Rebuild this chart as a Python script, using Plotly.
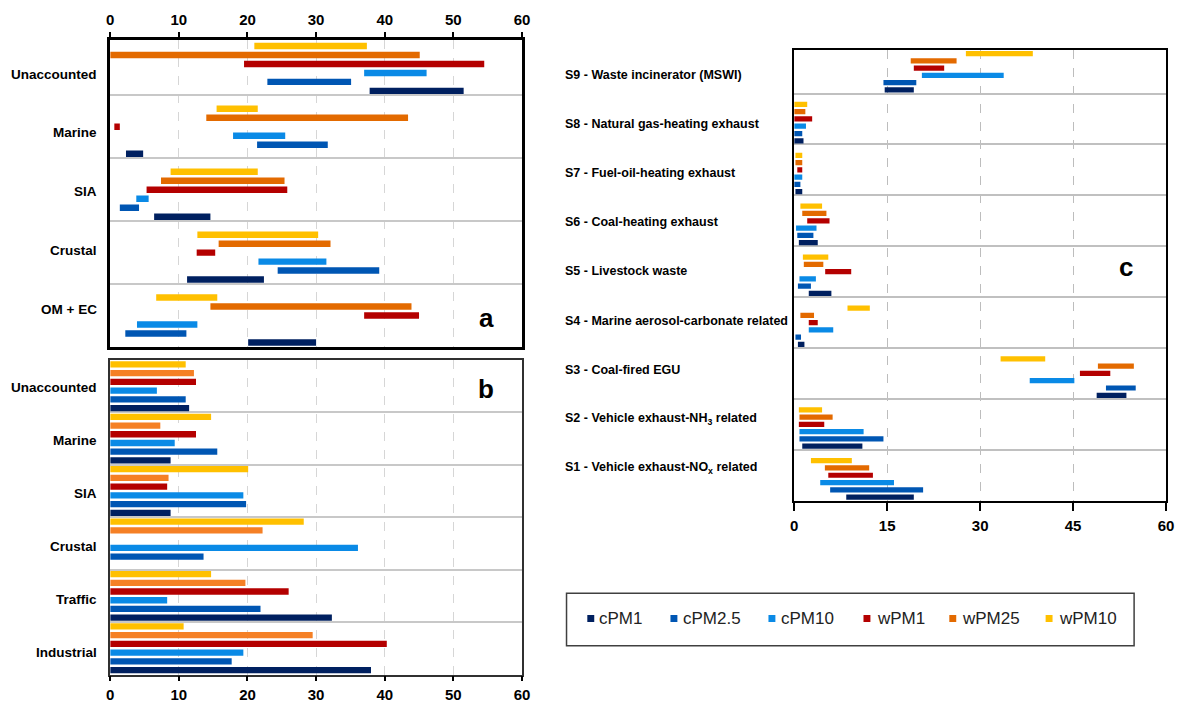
import plotly.graph_objects as go

W, H = 1182, 703

# ---------------- data ----------------
series = ["wPM10", "wPM25", "wPM1", "cPM10", "cPM2.5", "cPM1"]          # top -> bottom inside a band
legend_order = ["cPM1", "cPM2.5", "cPM10", "wPM1", "wPM25", "wPM10"]

colors = {"cPM1": "#002060", "cPM2.5": "#0056B3", "cPM10": "#0A8AE6",
          "wPM1": "#B40000", "wPM25": "#E36A00", "wPM10": "#FFC000"}
colors_b = dict(colors, wPM25="#F58025")

# panel a : ranges (min, max)
cats_a = ["Unaccounted", "Marine", "SIA", "Crustal", "OM + EC"]
a_low = {"wPM10": [21.0, 15.5, 8.8, 12.7, 6.7],
         "wPM25": [0.0, 14.0, 7.4, 15.8, 14.6],
         "wPM1": [19.5, 0.6, 5.3, 12.6, 37.0],
         "cPM10": [37.0, 17.9, 3.8, 21.6, 3.9],
         "cPM2.5": [22.9, 21.4, 1.4, 24.4, 2.2],
         "cPM1": [37.8, 2.3, 6.4, 11.2, 20.1]}
a_high = {"wPM10": [37.4, 21.5, 21.5, 30.3, 15.6],
          "wPM25": [45.1, 43.4, 25.4, 32.1, 43.9],
          "wPM1": [54.5, 1.4, 25.8, 15.3, 45.0],
          "cPM10": [46.1, 25.5, 5.6, 31.5, 12.7],
          "cPM2.5": [35.1, 31.7, 4.2, 39.2, 11.1],
          "cPM1": [51.5, 4.8, 14.6, 22.4, 30.0]}

# panel b : values
cats_b = ["Unaccounted", "Marine", "SIA", "Crustal", "Traffic", "Industrial"]
b_val = {"wPM10": [11.0, 14.7, 20.1, 28.2, 14.7, 10.7],
         "wPM25": [12.2, 7.3, 8.5, 22.2, 19.7, 29.5],
         "wPM1": [12.5, 12.5, 8.3, None, 26.0, 40.3],
         "cPM10": [6.8, 9.4, 19.4, 36.1, 8.3, 19.4],
         "cPM2.5": [11.0, 15.6, 19.8, 13.6, 21.9, 17.7],
         "cPM1": [11.5, 8.8, 8.8, None, 32.3, 38.0]}

# panel c : ranges (min, max)
cats_c = ["S9", "S8", "S7", "S6", "S5", "S4", "S3", "S2", "S1"]
labels_c = ["S9 - Waste incinerator (MSWI)",
            "S8 - Natural gas-heating exhaust",
            "S7 - Fuel-oil-heating exhaust",
            "S6 - Coal-heating exhaust",
            "S5 - Livestock waste",
            "S4 - Marine aerosol-carbonate related",
            "S3 - Coal-fired EGU",
            "S2 - Vehicle exhaust-NH<sub>3</sub> related",
            "S1 - Vehicle exhaust-NO<sub>x</sub> related"]
c_low = {"wPM10": [27.7, 0.0, 0.2, 1.0, 1.4, 8.6, 33.3, 0.75, 2.7],
         "wPM25": [18.8, 0.0, 0.2, 1.3, 1.55, 1.0, 49.0, 0.85, 4.95],
         "wPM1": [19.3, 0.0, 0.5, 2.1, 5.0, 2.35, 46.1, 0.75, 5.5],
         "cPM10": [20.6, 0.0, 0.0, 0.3, 0.85, 2.35, 38.0, 0.85, 4.2],
         "cPM2.5": [14.4, 0.0, 0.0, 0.5, 0.6, 0.2, 50.3, 0.85, 5.8],
         "cPM1": [14.6, 0.0, 0.2, 0.75, 2.35, 0.6, 48.8, 1.3, 8.4]}
c_high = {"wPM10": [38.5, 2.1, 1.3, 4.5, 5.5, 12.2, 40.5, 4.5, 9.3],
          "wPM25": [26.2, 1.8, 1.3, 5.2, 4.7, 3.2, 54.8, 6.2, 12.1],
          "wPM1": [24.2, 2.9, 1.3, 5.7, 9.2, 3.8, 51.0, 4.85, 12.7],
          "cPM10": [33.8, 1.9, 1.3, 3.6, 3.5, 6.3, 45.2, 11.2, 16.1],
          "cPM2.5": [19.7, 1.3, 1.0, 3.1, 2.7, 1.1, 55.1, 14.4, 20.8],
          "cPM1": [19.3, 1.5, 1.3, 3.8, 6.0, 1.65, 53.6, 11.0, 19.3]}

ticks_ab = [0, 10, 20, 30, 40, 50, 60]
ticks_c = [0, 15, 30, 45, 60]

# ---------------- style helpers ----------------
SANS = "Liberation Sans, Arial, sans-serif"


def fx(px):
    return px / W


def fy(py):
    return 1 - py / H


fig = go.Figure()


def add_range_panel(cats, low, high, xa, ya):
    # empty slot at the top of every band
    fig.add_trace(go.Bar(y=cats, x=[0] * len(cats), orientation="h", xaxis=xa, yaxis=ya,
                         marker=dict(opacity=0, line=dict(width=0)), showlegend=False,
                         hoverinfo="skip"))
    for s in series:
        lo, hi = low[s], high[s]
        fig.add_trace(go.Bar(y=cats, x=[h - l for l, h in zip(lo, hi)], base=lo,
                             orientation="h", name=s, xaxis=xa, yaxis=ya,
                             marker=dict(color=colors[s], line=dict(width=0)),
                             showlegend=False))


add_range_panel(cats_a, a_low, a_high, "x", "y")
for s in series:
    fig.add_trace(go.Bar(y=cats_b, x=b_val[s], orientation="h", name=s, xaxis="x2", yaxis="y2",
                         marker=dict(color=colors_b[s], line=dict(width=0)), showlegend=False))
add_range_panel(cats_c, c_low, c_high, "x3", "y3")

tickfont = dict(family=SANS, size=15, color="black", weight="bold")

xa_common = dict(range=[0, 60], showgrid=True, griddash="dash", gridwidth=1,
                 zeroline=False, ticks="outside", tickcolor="black", tickwidth=1.5,
                 tickfont=tickfont, showline=True, mirror=True, fixedrange=True)
ya_common = dict(type="category", categoryorder="array", tickson="boundaries",
                 showgrid=True, gridwidth=2, showticklabels=False, ticks="",
                 showline=True, mirror=True, zeroline=False, fixedrange=True)

fig.update_layout(
    width=W, height=H, margin=dict(l=0, r=0, t=0, b=0),
    paper_bgcolor="white", plot_bgcolor="white", showlegend=False,
    barmode="group", bargap=0, bargroupgap=0.28,
    xaxis=dict(xa_common, domain=[fx(107.3), fx(523.3)], anchor="y", side="top",
               tickvals=ticks_ab, gridcolor="#d6d6d6", linecolor="black", linewidth=2.5,
               ticklen=5, ticklabelstandoff=1),
    yaxis=dict(ya_common, domain=[fy(347), fy(40)], anchor="x", categoryarray=cats_a,
               range=[len(cats_a) - 0.5, -0.38], gridcolor="#c8c8c8",
               linecolor="black", linewidth=2.5),
    xaxis2=dict(xa_common, domain=[fx(107.3), fx(523.3)], anchor="y2", side="bottom",
                tickvals=ticks_ab, gridcolor="#d6d6d6", linecolor="#303030", linewidth=1.8,
                ticklen=5, ticklabelstandoff=1),
    yaxis2=dict(ya_common, domain=[fy(674.5), fy(360)], anchor="x2", categoryarray=cats_b,
                range=[len(cats_b) - 0.5, -0.5], gridcolor="#c8c8c8",
                linecolor="#303030", linewidth=1.8),
    xaxis3=dict(xa_common, domain=[fx(798.3), fx(1174)], anchor="y3", side="bottom",
                tickvals=ticks_c, gridcolor="#bdbdbd", linecolor="black", linewidth=2,
                ticklen=8, ticklabelstandoff=2),
    yaxis3=dict(ya_common, domain=[fy(500.7), fy(50)], anchor="x3", categoryarray=cats_c,
                range=[len(cats_c) - 0.5, -0.355], gridcolor="#c0c0c0",
                linecolor="black", linewidth=2),
)

ann = []
labfont = dict(family=SANS, size=13.5, color="black", weight="bold")
labfont_c = dict(family=SANS, size=12.5, color="black", weight="bold")
for i, c in enumerate(cats_a):
    ann.append(dict(x=fx(96), y=fy(74 + 58.75 * i), xref="paper", yref="paper", text=c,
                    xanchor="right", yanchor="middle", showarrow=False, font=labfont))
for i, c in enumerate(cats_b):
    ann.append(dict(x=fx(96), y=fy(387 + 53 * i), xref="paper", yref="paper", text=c,
                    xanchor="right", yanchor="middle", showarrow=False, font=labfont))
for i, c in enumerate(labels_c):
    ann.append(dict(x=fx(565), y=fy(75 + 49.1 * i), xref="paper", yref="paper", text=c,
                    xanchor="left", yanchor="middle", showarrow=False, font=labfont_c))

letterfont = dict(family=SANS, size=26, color="black", weight="bold")
for t, (px, py) in zip(["a", "b", "c"], [(487, 318), (487, 389), (1134, 267)]):
    ann.append(dict(x=fx(px), y=fy(py), xref="paper", yref="paper", text=t,
                    xanchor="center", yanchor="middle", showarrow=False, font=letterfont))

# legend (box, swatches, labels)
shapes = [dict(type="rect", xref="paper", yref="paper", x0=fx(568.3), x1=fx(1141.7),
               y0=fy(645.7), y1=fy(593.3), line=dict(color="#404040", width=1.5),
               fillcolor="white", layer="below")]
sw_left = [589.3, 673.3, 772.3, 868.3, 955.0, 1052.3]
tx_left = [599.5, 684.0, 783.0, 879.5, 965.5, 1064.0]
for s, sx, tx in zip(legend_order, sw_left, tx_left):
    shapes.append(dict(type="rect", xref="paper", yref="paper", x0=fx(sx), x1=fx(sx + 7),
                       y0=fy(622), y1=fy(615), line=dict(width=0), fillcolor=colors[s]))
    ann.append(dict(x=fx(tx), y=fy(618.5), xref="paper", yref="paper", text=s,
                    xanchor="left", yanchor="middle", showarrow=False,
                    font=dict(family=SANS, size=17, color="#222222")))

fig.update_layout(annotations=ann, shapes=shapes)

fig.write_html("out.html", config={"displayModeBar": False},
               post_script="document.body.style.margin='0';")
